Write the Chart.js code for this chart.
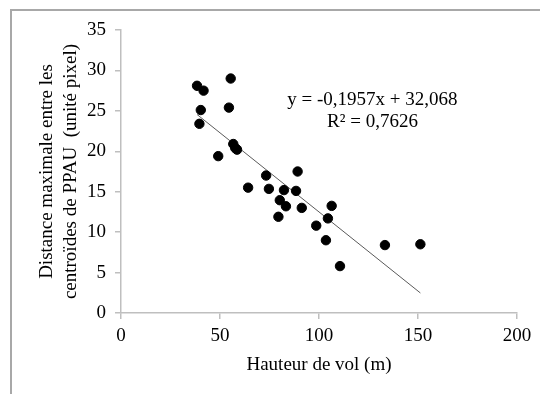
<!DOCTYPE html>
<html>
<head>
<meta charset="utf-8">
<script src="https://cdn.jsdelivr.net/npm/chart.js@4"></script>
<style>
  html, body { margin: 0; padding: 0; background: #fff; }
  #wrap { position: relative; width: 540px; height: 394px; overflow: hidden; }
  #frame { position: absolute; left: 10px; top: 9px; width: 560px; height: 420px;
           border-left: 2px solid #a8a8a8; border-top: 2px solid #a8a8a8; }
  canvas { position: absolute; left: 0; top: 0; }
</style>
</head>
<body>
<div id="wrap">
  <div id="frame"></div>
  <canvas id="scatter" width="540" height="394"></canvas>
</div>
<script>
// Hauteur de vol (m) et distance maximale entre centroïdes (pixels)
const hauteur = [38.4, 41.7, 40.3, 39.6, 55.4, 54.5, 56.7, 57.7, 58.6, 49.1,
                 64.2, 73.3, 74.7, 82.3, 80.2, 83.3, 79.5, 89.2, 88.4, 91.3,
                 98.6, 104.5, 106.4, 103.5, 110.6, 133.3, 151.2];
const distance = [28.1, 27.5, 25.1, 23.4, 29.0, 25.4, 20.9, 20.4, 20.2, 19.4,
                  15.5, 17.0, 15.35, 15.2, 13.95, 13.2, 11.9, 17.5, 15.1, 13.0,
                  10.8, 11.7, 13.25, 9.0, 5.8, 8.4, 8.5];

// Régression linéaire affichée sur le graphique
const pente = -0.1957;
const origine = 32.068;
const r2 = 0.7626;
const equationLines = ['y = -0,1957x + 32,068', 'R² = 0,7626'];

const xTicks = [0, 50, 100, 150, 200];
const yTicks = [0, 5, 10, 15, 20, 25, 30, 35];

const points = hauteur.map((h, i) => ({ x: h, y: distance[i] }));
const xMin = Math.min(...hauteur), xMax = Math.max(...hauteur);
const tendance = [xMin, xMax].map(x => ({ x: x, y: pente * x + origine }));

const serif = "'Liberation Serif', 'Times New Roman', serif";
const axisGray = '#bfbfbf';
const fontSize = 19;

// Texte de l'équation, placé en coordonnées du graphique
const equationPlugin = {
    id: 'equation',
    afterDatasetsDraw(chart, args, opts) {
        const ctx = chart.ctx;
        const xs = chart.scales.x, ys = chart.scales.y;
        ctx.save();
        ctx.font = fontSize + 'px ' + serif;
        ctx.fillStyle = '#000';
        ctx.textAlign = 'center';
        ctx.textBaseline = 'middle';
        opts.lines.forEach((line, i) => {
            ctx.fillText(line, xs.getPixelForValue(opts.x), ys.getPixelForValue(opts.y) + i * 22);
        });
        ctx.restore();
    }
};

new Chart(document.getElementById('scatter'), {
    type: 'scatter',
    data: {
        datasets: [
            {
                data: points,
                backgroundColor: '#000',
                borderColor: '#000',
                pointRadius: 4.7,
                pointHoverRadius: 4.7
            },
            {
                type: 'line',
                data: tendance,
                borderColor: '#5a5a5a',
                borderWidth: 1,
                pointRadius: 0,
                fill: false,
                tension: 0
            }
        ]
    },
    options: {
        responsive: false,
        animation: false,
        events: [],
        layout: { padding: { left: 0, top: 30, right: 23, bottom: 0 } },
        plugins: {
            legend: { display: false },
            tooltip: { enabled: false },
            equation: { x: 127, y: 26.3, lines: equationLines }
        },
        scales: {
            x: {
                type: 'linear',
                min: 0,
                max: 200,
                afterBuildTicks: axis => { axis.ticks = xTicks.map(v => ({ value: v })); },
                afterFit: axis => { axis.height = 81; },
                ticks: { color: '#000', font: { family: serif, size: fontSize }, padding: 6, maxRotation: 0 },
                grid: { drawOnChartArea: false, drawTicks: true, tickLength: 6, color: axisGray, lineWidth: 1.5 },
                border: { color: axisGray, width: 1.5 },
                title: {
                    display: true,
                    text: 'Hauteur de vol (m)',
                    color: '#000',
                    font: { family: serif, size: fontSize, lineHeight: 1.2 },
                    padding: { top: 0, bottom: 17.5 }
                }
            },
            y: {
                type: 'linear',
                min: 0,
                max: 35,
                afterBuildTicks: axis => { axis.ticks = yTicks.map(v => ({ value: v })); },
                afterFit: axis => { axis.width = 121; },
                ticks: { color: '#000', font: { family: serif, size: fontSize }, padding: 9 },
                grid: { drawOnChartArea: false, drawTicks: true, tickLength: 6, color: axisGray, lineWidth: 1.5 },
                border: { color: axisGray, width: 1.5 },
                title: {
                    display: true,
                    text: ['Distance maximale entre les', 'centroïdes de PPAU  (unité pixel)'],
                    color: '#000',
                    font: { family: serif, size: fontSize, lineHeight: 1.27 },
                    padding: { top: 34.5, bottom: 0 }
                }
            }
        }
    },
    plugins: [equationPlugin]
});
</script>
</body>
</html>
